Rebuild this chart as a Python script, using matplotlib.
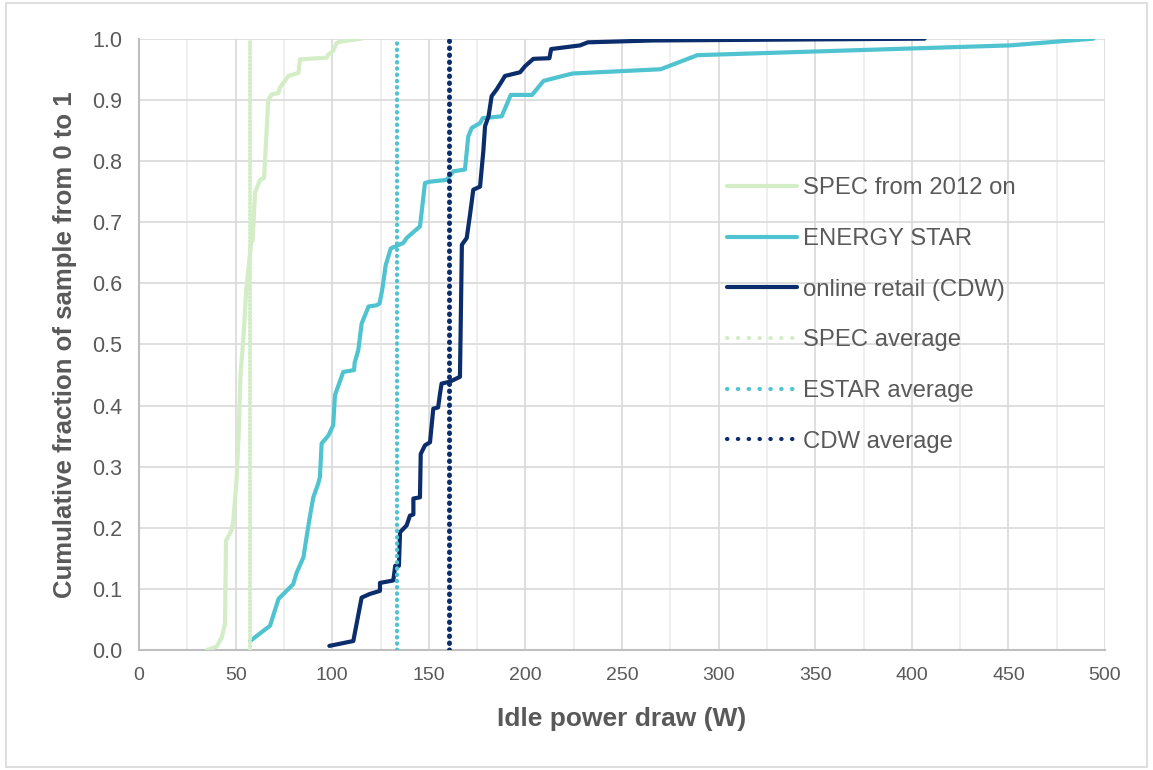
"""
Cumulative distribution of idle power draw for three server samples.
"""
import matplotlib
matplotlib.use('Agg')
import matplotlib.pyplot as plt
from matplotlib.lines import Line2D
from matplotlib.patches import Rectangle
from matplotlib.ticker import MultipleLocator, FormatStrFormatter

# --- data ---
spec_w = [35.0, 40.2, 42.8, 44.5, 45.0, 47.9, 48.8, 50.5, 51.5, 52.5, 54.0,
          55.5, 58.0, 58.8, 60.0, 62.6, 64.7, 66.9, 68.7, 72.1, 72.9, 77.3,
          82.5, 83.3, 97.1, 98.0, 100.5, 102.3, 104.0, 115.2]
spec_f = [0.000, 0.006, 0.021, 0.043, 0.179, 0.196, 0.212, 0.280, 0.350,
          0.450, 0.510, 0.590, 0.666, 0.670, 0.748, 0.769, 0.772, 0.900,
          0.909, 0.911, 0.920, 0.939, 0.944, 0.966, 0.969, 0.974, 0.980,
          0.993, 0.995, 1.000]

estar_w = [57.5, 67.8, 72.2, 79.8, 81.6, 85.1, 86.7, 88.5, 90.2, 92.7, 93.6,
           94.5, 98.0, 100.5, 101.4, 102.3, 105.7, 111.3, 111.6, 113.5, 115.2,
           118.8, 123.0, 124.5, 126.0, 127.7, 130.3, 136.8, 138.5, 145.4,
           148.0, 150.3, 159.2, 162.7, 168.7, 170.4, 172.2, 176.5, 177.9,
           187.7, 192.4, 203.4, 209.4, 224.3, 270.0, 289.0, 451.0, 494.0]
estar_f = [0.015, 0.040, 0.084, 0.108, 0.127, 0.152, 0.185, 0.220, 0.250,
           0.272, 0.283, 0.338, 0.351, 0.368, 0.417, 0.425, 0.455, 0.458,
           0.470, 0.491, 0.534, 0.562, 0.564, 0.567, 0.592, 0.630, 0.657,
           0.666, 0.674, 0.693, 0.764, 0.766, 0.769, 0.783, 0.786, 0.840,
           0.854, 0.862, 0.870, 0.873, 0.908, 0.908, 0.931, 0.943, 0.950,
           0.973, 0.989, 1.000]

cdw_w = [98.5, 110.9, 115.2, 119.5, 124.7, 124.7, 131.6, 132.6, 134.5, 135.1,
         138.5, 140.2, 142.0, 142.0, 145.4, 145.8, 148.0, 150.6, 152.3, 154.8,
         155.8, 156.6, 160.8, 166.1, 167.1, 169.6, 171.3, 173.0, 176.5, 178.2,
         179.1, 180.9, 182.5, 185.1, 187.7, 189.4, 197.2, 199.8, 204.1, 212.4,
         213.3, 228.3, 232.3, 266.0, 406.6]
cdw_f = [0.007, 0.015, 0.086, 0.092, 0.097, 0.110, 0.114, 0.138, 0.138, 0.193,
         0.204, 0.220, 0.222, 0.248, 0.250, 0.321, 0.335, 0.340, 0.395, 0.397,
         0.420, 0.436, 0.439, 0.447, 0.663, 0.674, 0.712, 0.753, 0.758, 0.816,
         0.857, 0.873, 0.906, 0.917, 0.930, 0.939, 0.945, 0.955, 0.967, 0.968,
         0.983, 0.989, 0.994, 0.997, 1.000]

spec_avg = 57.5
estar_avg = 133.4
cdw_avg = 160.5
avg_span = [0.0, 1.0]

labels = ['SPEC from 2012 on', 'ENERGY STAR', 'online retail (CDW)',
          'SPEC average', 'ESTAR average', 'CDW average']

# colours
c_spec = '#d3edc6'
c_estar = '#4fc3cf'
c_cdw = '#0b2d6c'
grey_txt = '#595959'

plt.rcParams['font.family'] = ['Liberation Sans', 'DejaVu Sans']

fig = plt.figure(figsize=(11.53, 7.7), dpi=100)
fig.patches.append(Rectangle((0.005, 0.004), 0.99, 0.992,
                             transform=fig.transFigure, fill=False,
                             edgecolor='#d9d9d9', linewidth=1.2))
ax = fig.add_axes([0.1206, 0.1556, 0.8378, 0.7942])

lw = 3.0
ax.plot(spec_w, spec_f, color=c_spec, lw=lw, solid_capstyle='round',
        zorder=3)
ax.plot(estar_w, estar_f, color=c_estar, lw=lw, solid_capstyle='round',
        zorder=3)
ax.plot(cdw_w, cdw_f, color=c_cdw, lw=lw, solid_capstyle='round', zorder=3)

# averages as vertical dotted lines
ax.plot([spec_avg, spec_avg], avg_span, color=c_spec, lw=3,
        linestyle=(0, (0.1, 0.8)), dash_capstyle='round', zorder=4)
ax.plot([estar_avg, estar_avg], avg_span, color=c_estar, lw=3,
        linestyle=(0, (0.1, 1.4)), dash_capstyle='round', zorder=4)
ax.plot([cdw_avg, cdw_avg], avg_span, color=c_cdw, lw=3.6,
        linestyle=(0, (0.1, 1.3)), dash_capstyle='round', zorder=4)

ax.set_xlim(0, 500)
ax.set_ylim(0, 1.0)
ax.xaxis.set_major_locator(MultipleLocator(50))
ax.xaxis.set_minor_locator(MultipleLocator(25))
ax.yaxis.set_major_locator(MultipleLocator(0.1))
ax.yaxis.set_major_formatter(FormatStrFormatter('%.1f'))

ax.grid(which='major', color='#d9d9d9', lw=1.2, zorder=0)
ax.grid(which='minor', axis='x', color='#ececec', lw=1.2, zorder=0)
ax.set_axisbelow(True)
for s in ['top', 'right']:
    ax.spines[s].set_visible(False)
for s in ['left', 'bottom']:
    ax.spines[s].set_color('#bfbfbf')
    ax.spines[s].set_linewidth(1.5)

ax.tick_params(which='both', length=0, colors=grey_txt)
ax.tick_params(axis='y', labelsize=15.5, pad=12)
ax.tick_params(axis='x', labelsize=14, pad=12)

ax.set_xlabel('Idle power draw (W)', fontsize=19, fontweight='bold',
              color=grey_txt, labelpad=17)
ax.set_ylabel('Cumulative fraction of sample from 0 to 1', fontsize=18.5,
              fontweight='bold', color=grey_txt, labelpad=11)

handles = [
    Line2D([], [], color=c_spec, lw=lw, solid_capstyle='round'),
    Line2D([], [], color=c_estar, lw=lw, solid_capstyle='round'),
    Line2D([], [], color=c_cdw, lw=lw, solid_capstyle='round'),
    Line2D([], [], color=c_spec, lw=3, linestyle=(0, (0.1, 2.5)),
           dash_capstyle='round'),
    Line2D([], [], color=c_estar, lw=3, linestyle=(0, (0.1, 2.5)),
           dash_capstyle='round'),
    Line2D([], [], color=c_cdw, lw=3, linestyle=(0, (0.1, 2.5)),
           dash_capstyle='round'),
]
leg = ax.legend(handles, labels, loc='upper left',
                bbox_to_anchor=(0.622, 0.782), bbox_transform=fig.transFigure,
                frameon=False, fontsize=17.2, handlelength=2.93,
                handletextpad=0.25, labelspacing=1.2, borderaxespad=0)
for t in leg.get_texts():
    t.set_color(grey_txt)

fig.savefig('out.png', dpi=100)
